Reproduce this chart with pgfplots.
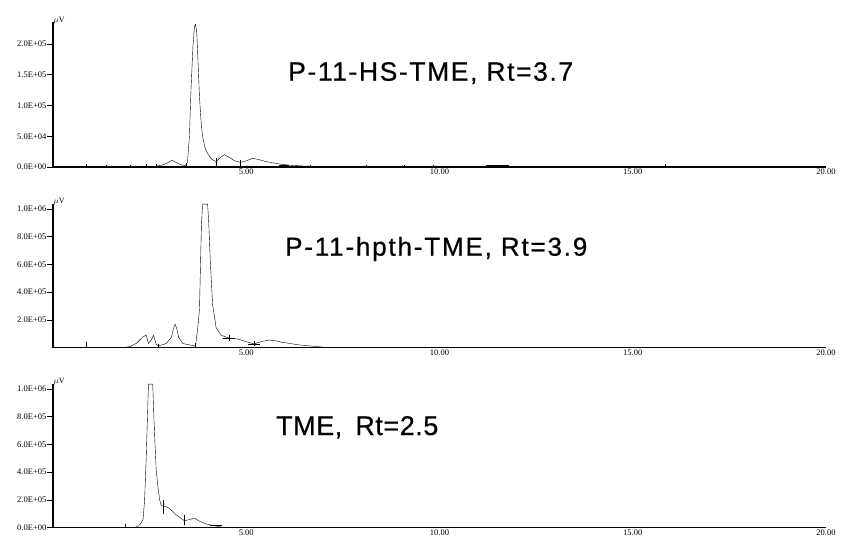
\documentclass[border=0pt]{standalone}
\usepackage{pgfplots}
\pgfplotsset{compat=1.18}
\usepackage{fontspec}
\setmainfont{Liberation Serif}
\newfontfamily\arialA[FakeBold=0.6,LetterSpace=6]{Liberation Sans}
\newfontfamily\arialB[FakeBold=0.6,LetterSpace=7]{Liberation Sans}
\newfontfamily\arialC[FakeBold=0.6,LetterSpace=2]{Liberation Sans}
\pgfplotsset{
  chrom/.style={
    scale only axis, width=773pt, anchor=south west,
    xmin=0, xmax=20, ymin=0,
    axis lines*=left,
    axis line style={line width=1.3pt, black},
    xtick={5,10,15,20}, xticklabels={5.00,10.00,15.00,20.00},
    scaled y ticks=false, scaled x ticks=false,
    tick align=outside,
    x tick style={draw=none},
    y tick style={line width=0.6pt, black},
    major tick length=6pt,
    ticklabel style={font=\fontsize{8.5}{9}\selectfont},
    xticklabel shift=-4.5pt,
    xticklabel style={inner sep=0pt},
    yticklabel style={inner sep=0.5pt},
    clip=false,
    cycle list={{black, line width=0.7pt, mark=none}},
  }
}
\begin{document}
\begin{tikzpicture}[x=1pt,y=1pt]
\useasboundingbox (0,0) rectangle (841,539);
% ---------- Panel 1 ----------
\begin{axis}[chrom, at={(53pt,372pt)}, height=145pt, ymax=2.358e5,
  ytick={0,50000,100000,150000,200000},
  yticklabels={0.0E+00,5.0E+04,1.0E+05,1.5E+05,2.0E+05}]
\addplot+[] coordinates {(0,400) (2.3,400) (2.4,1500) (2.55,700) (2.7,1500) (2.85,3500) (2.97,7000) (3.08,11000) (3.2,7000) (3.32,3500) (3.42,2000) (3.48,8000) (3.53,50000) (3.57,125000) (3.62,195000) (3.66,228000) (3.69,232000) (3.72,218000) (3.76,160000) (3.79,114000) (3.83,75000) (3.87,49000) (3.93,32000) (4.0,22000) (4.1,13000) (4.22,8600) (4.32,15000) (4.43,20000) (4.55,16000) (4.7,10000) (4.86,7600) (5.0,10000) (5.16,14000) (5.3,12500) (5.5,9000) (5.85,5000) (6.1,3000) (6.5,1500) (7.0,800) (8,600) (20,400)};
\addplot+[ycomb] coordinates {(0.85,5000) (1.38,4000) (2.0,4000) (2.41,4500) (2.67,5500) (3.44,6000) (4.22,14000) (4.86,12000) (6.65,4000) (8.12,4000) (9.09,4000) (9.85,3000) (12.9,2000) (15.84,5000)};
\addplot+[line width=1.2pt] coordinates {(5.85,2500) (6.1,2500)};
\addplot+[line width=1.2pt] coordinates {(11.2,1500) (11.8,1500)};
\node[anchor=south west, inner sep=0.5pt, font=\fontsize{8}{9}\selectfont] at (axis cs:0,2.32e5) {$\mu$V};
\end{axis}
% ---------- Panel 2 ----------
\begin{axis}[chrom, at={(53pt,191.3pt)}, height=143.7pt, ymax=1.036e6,
  ytick={200000,400000,600000,800000,1000000},
  yticklabels={2.0E+05,4.0E+05,6.0E+05,8.0E+05,1.0E+06}]
\addplot+[] coordinates {(1.25,1000) (1.86,3000) (2.0,8000) (2.16,32000) (2.33,79000) (2.41,90000) (2.47,30000) (2.55,60000) (2.6,90000) (2.67,26000) (2.73,13000) (2.93,30000) (3.06,75000) (3.12,140000) (3.16,170000) (3.21,130000) (3.25,75000) (3.36,30000) (3.53,20000) (3.69,13000) (3.76,180000) (3.79,280000) (3.84,880000) (3.87,1035000) (4.0,1035000) (4.03,900000) (4.07,620000) (4.13,310000) (4.22,145000) (4.35,90000) (4.56,68000) (4.78,63000) (4.99,44000) (5.2,27000) (5.4,45000) (5.6,55000) (5.76,50000) (5.93,39000) (6.37,20000) (6.88,7000) (7.0,3000)};
\addplot+[ycomb] coordinates {(0.85,40000)};
\addplot+[] coordinates {(2.73,0) (2.73,30000)};
\addplot+[] coordinates {(3.69,0) (3.69,35000)};
\addplot+[] coordinates {(4.56,45000) (4.56,90000)};
\addplot+[] coordinates {(4.4,68000) (4.72,68000)};
\addplot+[] coordinates {(5.2,10000) (5.2,45000)};
\addplot+[] coordinates {(5.05,27000) (5.35,27000)};
\node[anchor=south west, inner sep=0.5pt, font=\fontsize{8}{9}\selectfont] at (axis cs:0,1.02e6) {$\mu$V};
\end{axis}
% ---------- Panel 3 ----------
\begin{axis}[chrom, at={(53pt,11.3pt)}, height=143.7pt, ymax=1.036e6,
  ytick={0,200000,400000,600000,800000,1000000},
  yticklabels={0.0E+00,2.0E+05,4.0E+05,6.0E+05,8.0E+05,1.0E+06}]
\addplot+[] coordinates {(1.86,1000) (2.1,2000) (2.2,10000) (2.27,30000) (2.33,60000) (2.37,200000) (2.41,490000) (2.45,850000) (2.47,1035000) (2.58,1035000) (2.61,800000) (2.64,600000) (2.67,416000) (2.72,280000) (2.76,200000) (2.8,160000) (2.84,155000) (2.95,150000) (3.05,130000) (3.2,90000) (3.4,50000) (3.55,60000) (3.66,70000) (3.8,45000) (3.96,27000) (4.15,15000) (4.3,8000) (4.38,3000)};
\addplot+[] coordinates {(1.86,0) (1.86,30000)};
\addplot+[] coordinates {(2.84,100000) (2.84,200000)};
\addplot+[] coordinates {(3.4,20000) (3.4,90000)};
\addplot+[] coordinates {(4.05,15000) (4.38,15000)};
\node[anchor=south west, inner sep=0.5pt, font=\fontsize{8}{9}\selectfont] at (axis cs:0,1.02e6) {$\mu$V};
\end{axis}
% ---------- Labels ----------
\node[anchor=base west, inner sep=0pt, font=\arialA\fontsize{26.5}{29}\selectfont] at (288,458.3) {P-11-HS-TME, Rt=3.7};
\node[anchor=base west, inner sep=0pt, font=\arialB\fontsize{26}{29}\selectfont] at (285,283.3) {P-11-hpth-TME, Rt=3.9};
\node[anchor=base west, inner sep=0pt, font=\arialC\fontsize{27}{30}\selectfont] at (276,104) {TME,\hspace{5pt} Rt=2.5};
\end{tikzpicture}
\end{document}
